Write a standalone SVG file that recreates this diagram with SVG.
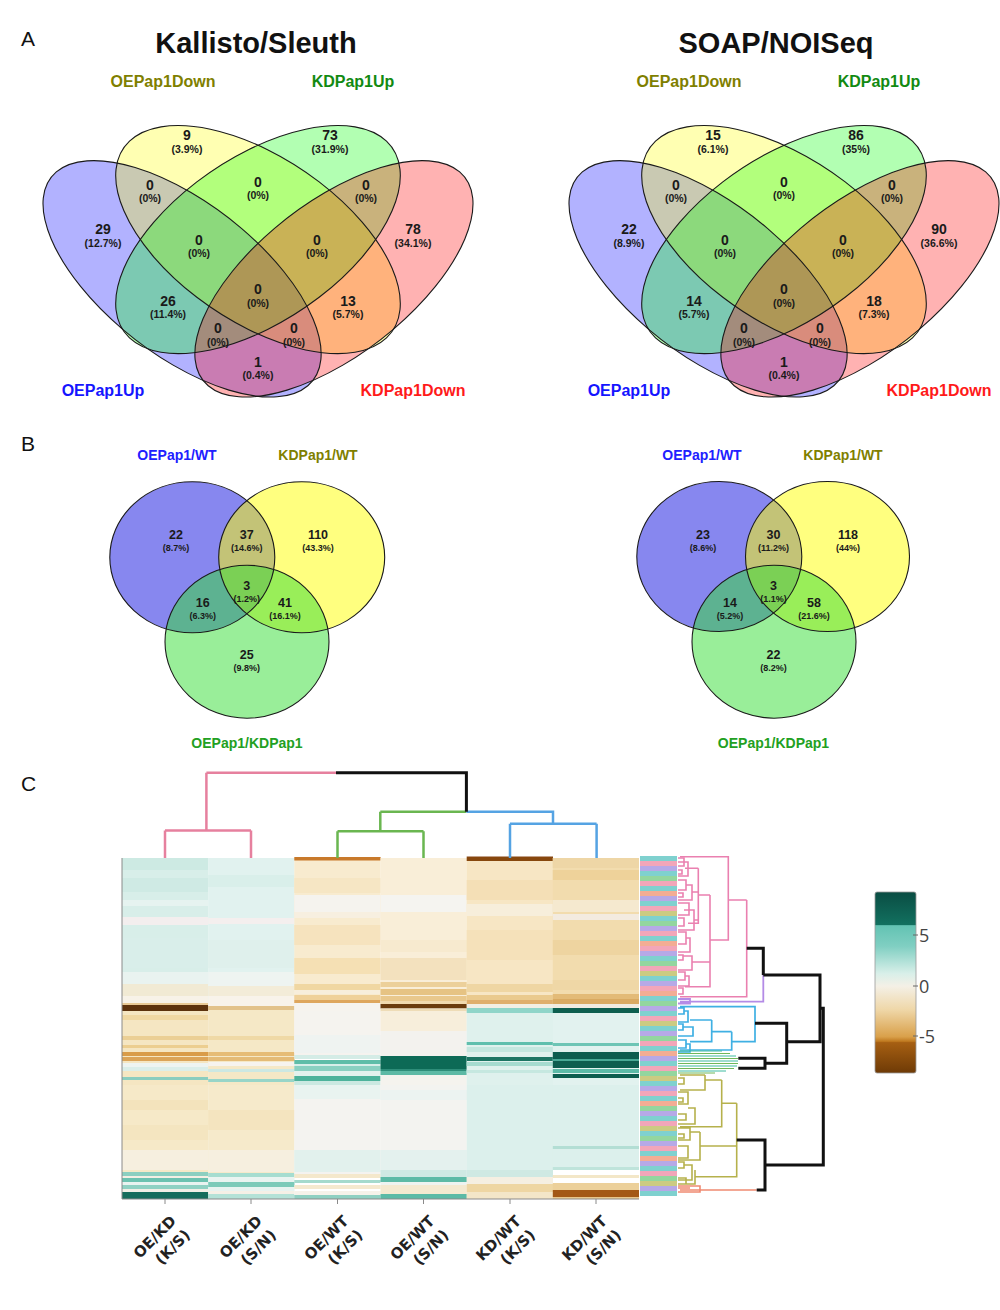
<svg xmlns="http://www.w3.org/2000/svg" width="1000" height="1310" viewBox="0 0 1000 1310">
<style>
text{font-family:"Liberation Sans",Arial,sans-serif;}
.panel{font-size:21px;fill:#111}
.title{font-size:29px;font-weight:bold;fill:#111;text-anchor:middle}
.n4{font-size:14px;font-weight:bold;fill:#1a1a1a;text-anchor:middle}
.p4{font-size:10.5px;font-weight:bold;fill:#1a1a1a;text-anchor:middle}
.n3{font-size:12.5px;font-weight:bold;fill:#1a1a1a;text-anchor:middle}
.p3{font-size:9px;font-weight:bold;fill:#1a1a1a;text-anchor:middle}
.cat4{font-size:16px;font-weight:bold;text-anchor:middle}
.cat3{font-size:14px;font-weight:bold;text-anchor:middle}
.f4{fill-opacity:0.3;stroke:none}
.s4{fill:none;stroke:#1a1a1a;stroke-width:1.1;vector-effect:non-scaling-stroke}
.f3{fill-opacity:0.5;stroke:none}
.s3{fill:none;stroke:#1a1a1a;stroke-width:1.1}
.xl{font-family:"DejaVu Sans",sans-serif;font-size:15px;font-weight:bold;fill:#222;text-anchor:end}
.cb{font-family:"Open Sans",sans-serif;font-size:18px;fill:#444}
.blk{fill:none;stroke:#111;stroke-width:3}
.cpk{fill:none;stroke:#e6809e;stroke-width:2.5}
.cgr{fill:none;stroke:#6ab650;stroke-width:2.5}
.cbl{fill:none;stroke:#55a3e3;stroke-width:2.5}
.rpk{fill:none;stroke:#ea80b0;stroke-width:1.6}
.rpu{fill:none;stroke:#b48be6;stroke-width:1.8}
.rbl{fill:none;stroke:#3fb0e3;stroke-width:1.7}
.rgr{fill:none;stroke-width:1}
.rol{fill:none;stroke:#b6b14c;stroke-width:1.6}
.rsa{fill:none;stroke:#ef8a72;stroke-width:1.6}
</style>
<defs>
<linearGradient id="cbg" x1="0" y1="0" x2="0" y2="1">
<stop offset="0" stop-color="#0a4d43"/>
<stop offset="0.18" stop-color="#12705f"/>
<stop offset="0.186" stop-color="#63c3b3"/>
<stop offset="0.3" stop-color="#80cfc2"/>
<stop offset="0.45" stop-color="#d8efe9"/>
<stop offset="0.52" stop-color="#f4f0e6"/>
<stop offset="0.65" stop-color="#efd7a8"/>
<stop offset="0.8" stop-color="#d9a04a"/>
<stop offset="0.825" stop-color="#c07a20"/>
<stop offset="0.832" stop-color="#a65f12"/>
<stop offset="1" stop-color="#6e3a06"/>
</linearGradient>
<filter id="soft" x="0" y="0" width="1" height="1"><feGaussianBlur stdDeviation="0.7"/></filter>
</defs>

<text class="panel" x="21" y="46">A</text>
<text class="panel" x="21" y="451">B</text>
<text class="panel" x="21" y="791">C</text>
<text class="title" x="256" y="53">Kallisto/Sleuth</text>
<text class="title" x="776" y="53">SOAP/NOISeq</text>

<!-- Venn A left -->
<g id="vennA-left">
<g transform="matrix(494 0 0 -420 11 475.6)">
<ellipse class="f4" fill="#0000ff" rx="0.36" ry="0.17" transform="translate(0.3463 0.4685) rotate(-45)"/>
<ellipse class="f4" fill="#ffff00" rx="0.35" ry="0.185" transform="translate(0.5 0.562) rotate(-42)"/>
<ellipse class="f4" fill="#00ff00" rx="0.35" ry="0.185" transform="translate(0.5 0.562) rotate(42)"/>
<ellipse class="f4" fill="#ff0000" rx="0.36" ry="0.17" transform="translate(0.6537 0.4685) rotate(45)"/>
<ellipse class="s4" rx="0.36" ry="0.17" transform="translate(0.3463 0.4685) rotate(-45)"/>
<ellipse class="s4" rx="0.35" ry="0.185" transform="translate(0.5 0.562) rotate(-42)"/>
<ellipse class="s4" rx="0.35" ry="0.185" transform="translate(0.5 0.562) rotate(42)"/>
<ellipse class="s4" rx="0.36" ry="0.17" transform="translate(0.6537 0.4685) rotate(45)"/>
</g>
<text class="cat4" x="163" y="87" fill="#7f7f00">OEPap1Down</text>
<text class="cat4" x="353" y="87" fill="#128a12">KDPap1Up</text>
<text class="cat4" x="103" y="396" fill="#1515ff">OEPap1Up</text>
<text class="cat4" x="413" y="396" fill="#ff1a1a">KDPap1Down</text>
<text class="n4" x="187" y="140">9</text><text class="p4" x="187" y="153">(3.9%)</text>
<text class="n4" x="330" y="140">73</text><text class="p4" x="330" y="153">(31.9%)</text>
<text class="n4" x="150" y="190">0</text><text class="p4" x="150" y="202">(0%)</text>
<text class="n4" x="258" y="187">0</text><text class="p4" x="258" y="199">(0%)</text>
<text class="n4" x="366" y="190">0</text><text class="p4" x="366" y="202">(0%)</text>
<text class="n4" x="103" y="234">29</text><text class="p4" x="103" y="247">(12.7%)</text>
<text class="n4" x="199" y="245">0</text><text class="p4" x="199" y="257">(0%)</text>
<text class="n4" x="317" y="245">0</text><text class="p4" x="317" y="257">(0%)</text>
<text class="n4" x="413" y="234">78</text><text class="p4" x="413" y="247">(34.1%)</text>
<text class="n4" x="258" y="294">0</text><text class="p4" x="258" y="307">(0%)</text>
<text class="n4" x="168" y="306">26</text><text class="p4" x="168" y="318">(11.4%)</text>
<text class="n4" x="348" y="306">13</text><text class="p4" x="348" y="318">(5.7%)</text>
<text class="n4" x="218" y="333">0</text><text class="p4" x="218" y="346">(0%)</text>
<text class="n4" x="294" y="333">0</text><text class="p4" x="294" y="346">(0%)</text>
<text class="n4" x="258" y="367">1</text><text class="p4" x="258" y="379">(0.4%)</text>
</g>

<!-- Venn A right -->
<g id="vennA-right" transform="translate(526 0)">
<g transform="matrix(494 0 0 -420 11 475.6)">
<ellipse class="f4" fill="#0000ff" rx="0.36" ry="0.17" transform="translate(0.3463 0.4685) rotate(-45)"/>
<ellipse class="f4" fill="#ffff00" rx="0.35" ry="0.185" transform="translate(0.5 0.562) rotate(-42)"/>
<ellipse class="f4" fill="#00ff00" rx="0.35" ry="0.185" transform="translate(0.5 0.562) rotate(42)"/>
<ellipse class="f4" fill="#ff0000" rx="0.36" ry="0.17" transform="translate(0.6537 0.4685) rotate(45)"/>
<ellipse class="s4" rx="0.36" ry="0.17" transform="translate(0.3463 0.4685) rotate(-45)"/>
<ellipse class="s4" rx="0.35" ry="0.185" transform="translate(0.5 0.562) rotate(-42)"/>
<ellipse class="s4" rx="0.35" ry="0.185" transform="translate(0.5 0.562) rotate(42)"/>
<ellipse class="s4" rx="0.36" ry="0.17" transform="translate(0.6537 0.4685) rotate(45)"/>
</g>
<text class="cat4" x="163" y="87" fill="#7f7f00">OEPap1Down</text>
<text class="cat4" x="353" y="87" fill="#128a12">KDPap1Up</text>
<text class="cat4" x="103" y="396" fill="#1515ff">OEPap1Up</text>
<text class="cat4" x="413" y="396" fill="#ff1a1a">KDPap1Down</text>
<text class="n4" x="187" y="140">15</text><text class="p4" x="187" y="153">(6.1%)</text>
<text class="n4" x="330" y="140">86</text><text class="p4" x="330" y="153">(35%)</text>
<text class="n4" x="150" y="190">0</text><text class="p4" x="150" y="202">(0%)</text>
<text class="n4" x="258" y="187">0</text><text class="p4" x="258" y="199">(0%)</text>
<text class="n4" x="366" y="190">0</text><text class="p4" x="366" y="202">(0%)</text>
<text class="n4" x="103" y="234">22</text><text class="p4" x="103" y="247">(8.9%)</text>
<text class="n4" x="199" y="245">0</text><text class="p4" x="199" y="257">(0%)</text>
<text class="n4" x="317" y="245">0</text><text class="p4" x="317" y="257">(0%)</text>
<text class="n4" x="413" y="234">90</text><text class="p4" x="413" y="247">(36.6%)</text>
<text class="n4" x="258" y="294">0</text><text class="p4" x="258" y="307">(0%)</text>
<text class="n4" x="168" y="306">14</text><text class="p4" x="168" y="318">(5.7%)</text>
<text class="n4" x="348" y="306">18</text><text class="p4" x="348" y="318">(7.3%)</text>
<text class="n4" x="218" y="333">0</text><text class="p4" x="218" y="346">(0%)</text>
<text class="n4" x="294" y="333">0</text><text class="p4" x="294" y="346">(0%)</text>
<text class="n4" x="258" y="367">1</text><text class="p4" x="258" y="379">(0.4%)</text>
</g>

<!-- Venn B left -->
<g id="vennB-left">
<ellipse class="f3" fill="#1010e0" cx="192.3" cy="557.3" rx="82.5" ry="75.5"/>
<ellipse class="f3" fill="#ffff00" cx="301.7" cy="557.3" rx="83" ry="75.5"/>
<ellipse class="f3" fill="#33dd33" cx="247" cy="641.7" rx="82" ry="76.5"/>
<ellipse class="s3" cx="192.3" cy="557.3" rx="82.5" ry="75.5"/>
<ellipse class="s3" cx="301.7" cy="557.3" rx="83" ry="75.5"/>
<ellipse class="s3" cx="247" cy="641.7" rx="82" ry="76.5"/>
<text class="cat3" x="177" y="460" fill="#2020ff">OEPap1/WT</text>
<text class="cat3" x="318" y="460" fill="#7f7f00">KDPap1/WT</text>
<text class="cat3" x="247" y="748" fill="#22a022">OEPap1/KDPap1</text>
<text class="n3" x="176" y="539">22</text><text class="p3" x="176" y="550.5">(8.7%)</text>
<text class="n3" x="246.7" y="539">37</text><text class="p3" x="246.7" y="550.5">(14.6%)</text>
<text class="n3" x="318" y="539">110</text><text class="p3" x="318" y="550.5">(43.3%)</text>
<text class="n3" x="246.7" y="590">3</text><text class="p3" x="246.7" y="601.5">(1.2%)</text>
<text class="n3" x="202.7" y="607">16</text><text class="p3" x="202.7" y="618.5">(6.3%)</text>
<text class="n3" x="285" y="607">41</text><text class="p3" x="285" y="618.5">(16.1%)</text>
<text class="n3" x="246.7" y="659">25</text><text class="p3" x="246.7" y="670.5">(9.8%)</text>
</g>

<!-- Venn B right -->
<g id="vennB-right" transform="translate(527 0)">
<ellipse class="f3" fill="#1010e0" cx="192.3" cy="556.5" rx="82.5" ry="75"/>
<ellipse class="f3" fill="#ffff00" cx="300.5" cy="556.5" rx="82" ry="75"/>
<ellipse class="f3" fill="#33dd33" cx="247" cy="641.7" rx="82" ry="76.5"/>
<ellipse class="s3" cx="192.3" cy="556.5" rx="82.5" ry="75"/>
<ellipse class="s3" cx="300.5" cy="556.5" rx="82" ry="75"/>
<ellipse class="s3" cx="247" cy="641.7" rx="82" ry="76.5"/>
<text class="cat3" x="175" y="460" fill="#2020ff">OEPap1/WT</text>
<text class="cat3" x="316" y="460" fill="#7f7f00">KDPap1/WT</text>
<text class="cat3" x="246.5" y="748" fill="#22a022">OEPap1/KDPap1</text>
<text class="n3" x="176" y="539">23</text><text class="p3" x="176" y="550.5">(8.6%)</text>
<text class="n3" x="246.5" y="539">30</text><text class="p3" x="246.5" y="550.5">(11.2%)</text>
<text class="n3" x="321" y="539">118</text><text class="p3" x="321" y="550.5">(44%)</text>
<text class="n3" x="246.5" y="590">3</text><text class="p3" x="246.5" y="601.5">(1.1%)</text>
<text class="n3" x="203" y="607">14</text><text class="p3" x="203" y="618.5">(5.2%)</text>
<text class="n3" x="287" y="607">58</text><text class="p3" x="287" y="618.5">(21.6%)</text>
<text class="n3" x="246.5" y="659">22</text><text class="p3" x="246.5" y="670.5">(8.2%)</text>
</g>

<!-- Heatmap -->
<g id="heatmap" filter="url(#soft)">
<!-- col1 -->
<rect x="122" y="858" width="86.3" height="145" fill="#d8eee9"/>
<rect x="122" y="858" width="86.3" height="12" fill="#cdeae3"/>
<rect x="122" y="878" width="86.3" height="14" fill="#cfeae4"/>
<rect x="122" y="900" width="86.3" height="6" fill="#e6f3f0"/>
<rect x="122" y="917" width="86.3" height="8" fill="#f3eeee"/>
<rect x="122" y="938" width="86.3" height="30" fill="#d9eeea"/>
<rect x="122" y="972" width="86.3" height="12" fill="#e9f3f0"/>
<rect x="122" y="984" width="86.3" height="12" fill="#f1ead4"/>
<rect x="122" y="996" width="86.3" height="8" fill="#f7f2e8"/>
<rect x="122" y="1003" width="86.3" height="2" fill="#e8c995"/>
<rect x="122" y="1005" width="86.3" height="6" fill="#5b3208"/>
<rect x="122" y="1011" width="86.3" height="74" fill="#f5e6c2"/>
<rect x="122" y="1015" width="86.3" height="5" fill="#f0d8a3"/>
<rect x="122" y="1036" width="86.3" height="4" fill="#ebcf95"/>
<rect x="122" y="1045" width="86.3" height="3" fill="#ecce90"/>
<rect x="122" y="1052" width="86.3" height="4" fill="#d99c48"/>
<rect x="122" y="1057" width="86.3" height="4" fill="#dba458"/>
<rect x="122" y="1063" width="86.3" height="4" fill="#eef4f1"/>
<rect x="122" y="1067" width="86.3" height="4" fill="#dbeee9"/>
<rect x="122" y="1077" width="86.3" height="3" fill="#8acdbf"/>
<rect x="122" y="1085" width="86.3" height="88" fill="#f6e9c8"/>
<rect x="122" y="1100" width="86.3" height="10" fill="#f3e3bc"/>
<rect x="122" y="1125" width="86.3" height="15" fill="#f4e5c0"/>
<rect x="122" y="1150" width="86.3" height="20" fill="#f6efdf"/>
<rect x="122" y="1172" width="86.3" height="4" fill="#8ccfc0"/>
<rect x="122" y="1176" width="86.3" height="2" fill="#f4efe4"/>
<rect x="122" y="1178" width="86.3" height="4" fill="#6cc2b0"/>
<rect x="122" y="1182" width="86.3" height="3" fill="#e9f3f0"/>
<rect x="122" y="1185" width="86.3" height="4" fill="#8fd1c3"/>
<rect x="122" y="1189" width="86.3" height="3" fill="#f3efe6"/>
<rect x="122" y="1192" width="86.3" height="7" fill="#136c5b"/>
<!-- col2 -->
<rect x="208.2" y="858" width="86.3" height="145" fill="#e1f2ef"/>
<rect x="208.2" y="875" width="86.3" height="12" fill="#d9efea"/>
<rect x="208.2" y="918" width="86.3" height="6" fill="#f4efee"/>
<rect x="208.2" y="940" width="86.3" height="28" fill="#dff0ec"/>
<rect x="208.2" y="972" width="86.3" height="14" fill="#eef4f1"/>
<rect x="208.2" y="986" width="86.3" height="10" fill="#f3ecd8"/>
<rect x="208.2" y="996" width="86.3" height="10" fill="#f8f3ea"/>
<rect x="208.2" y="1006" width="86.3" height="4" fill="#e2c28a"/>
<rect x="208.2" y="1010" width="86.3" height="75" fill="#f5e8c6"/>
<rect x="208.2" y="1036" width="86.3" height="4" fill="#efd9a6"/>
<rect x="208.2" y="1052" width="86.3" height="4" fill="#e6bc75"/>
<rect x="208.2" y="1057" width="86.3" height="4" fill="#e4bb76"/>
<rect x="208.2" y="1062" width="86.3" height="4" fill="#f6f3ee"/>
<rect x="208.2" y="1069" width="86.3" height="3" fill="#cde8e2"/>
<rect x="208.2" y="1079" width="86.3" height="3" fill="#98d5c8"/>
<rect x="208.2" y="1085" width="86.3" height="88" fill="#f6eacb"/>
<rect x="208.2" y="1110" width="86.3" height="20" fill="#f4e4bf"/>
<rect x="208.2" y="1150" width="86.3" height="22" fill="#f6efdf"/>
<rect x="208.2" y="1173" width="86.3" height="4" fill="#a6ddd0"/>
<rect x="208.2" y="1177" width="86.3" height="5" fill="#eaf4f1"/>
<rect x="208.2" y="1182" width="86.3" height="5" fill="#7ccab9"/>
<rect x="208.2" y="1187" width="86.3" height="4" fill="#e8f3f0"/>
<rect x="208.2" y="1191" width="86.3" height="3" fill="#f5f0e6"/>
<rect x="208.2" y="1194" width="86.3" height="5" fill="#b4e2d7"/>
<!-- col3 -->
<rect x="294.3" y="858" width="86.3" height="146" fill="#f8ebcf"/>
<rect x="294.3" y="857" width="86.3" height="3.5" fill="#c8792a"/>
<rect x="294.3" y="878" width="86.3" height="15" fill="#f6e6c4"/>
<rect x="294.3" y="895" width="86.3" height="17" fill="#f5f3ee"/>
<rect x="294.3" y="912" width="86.3" height="6" fill="#f7efe0"/>
<rect x="294.3" y="925" width="86.3" height="20" fill="#f6e3be"/>
<rect x="294.3" y="958" width="86.3" height="16" fill="#f5e0b4"/>
<rect x="294.3" y="984" width="86.3" height="6" fill="#f0d7a2"/>
<rect x="294.3" y="990" width="86.3" height="4" fill="#f7eedc"/>
<rect x="294.3" y="995" width="86.3" height="5" fill="#efd19a"/>
<rect x="294.3" y="1000" width="86.3" height="3" fill="#dea65d"/>
<rect x="294.3" y="1003" width="86.3" height="8" fill="#f6f3ee"/>
<rect x="294.3" y="1011" width="86.3" height="44" fill="#f5f3ef"/>
<rect x="294.3" y="1035" width="86.3" height="18" fill="#eff3f1"/>
<rect x="294.3" y="1055" width="86.3" height="4" fill="#d4ece6"/>
<rect x="294.3" y="1060" width="86.3" height="4" fill="#5ebda8"/>
<rect x="294.3" y="1064" width="86.3" height="2" fill="#d8eee9"/>
<rect x="294.3" y="1066" width="86.3" height="5" fill="#8ad0c1"/>
<rect x="294.3" y="1071" width="86.3" height="5" fill="#e2f1ed"/>
<rect x="294.3" y="1076" width="86.3" height="5" fill="#4db29b"/>
<rect x="294.3" y="1081" width="86.3" height="4" fill="#cbe8e1"/>
<rect x="294.3" y="1085" width="86.3" height="89" fill="#f4f3f0"/>
<rect x="294.3" y="1085" width="86.3" height="14" fill="#e9f3f0"/>
<rect x="294.3" y="1150" width="86.3" height="22" fill="#e2f1ed"/>
<rect x="294.3" y="1174" width="86.3" height="4" fill="#f4e8cc"/>
<rect x="294.3" y="1180" width="86.3" height="3" fill="#a5dacd"/>
<rect x="294.3" y="1185" width="86.3" height="4" fill="#f5e9cf"/>
<rect x="294.3" y="1191" width="86.3" height="4" fill="#f6f2ea"/>
<rect x="294.3" y="1195" width="86.3" height="4" fill="#8fd0c2"/>
<!-- col4 -->
<rect x="380.5" y="858" width="86.3" height="146" fill="#f9eed8"/>
<rect x="380.5" y="895" width="86.3" height="17" fill="#f5f4f0"/>
<rect x="380.5" y="940" width="86.3" height="12" fill="#f7eacf"/>
<rect x="380.5" y="958" width="86.3" height="22" fill="#f3e1be"/>
<rect x="380.5" y="982" width="86.3" height="5" fill="#ecd09a"/>
<rect x="380.5" y="989" width="86.3" height="6" fill="#e6c383"/>
<rect x="380.5" y="996" width="86.3" height="5" fill="#e9c88c"/>
<rect x="380.5" y="1001" width="86.3" height="3" fill="#f0d9ae"/>
<rect x="380.5" y="1004" width="86.3" height="4.5" fill="#6a3b0a"/>
<rect x="380.5" y="1008.5" width="86.3" height="3" fill="#eedcb7"/>
<rect x="380.5" y="1011" width="86.3" height="20" fill="#f7eedb"/>
<rect x="380.5" y="1031" width="86.3" height="25" fill="#f3f2ee"/>
<rect x="380.5" y="1056" width="86.3" height="13" fill="#0d6a57"/>
<rect x="380.5" y="1069" width="86.3" height="2" fill="#2e8d79"/>
<rect x="380.5" y="1071" width="86.3" height="4" fill="#5db9a5"/>
<rect x="380.5" y="1075" width="86.3" height="10" fill="#f5f3ee"/>
<rect x="380.5" y="1085" width="86.3" height="85" fill="#f3f3f0"/>
<rect x="380.5" y="1090" width="86.3" height="10" fill="#ecf3f1"/>
<rect x="380.5" y="1150" width="86.3" height="20" fill="#e4f1ee"/>
<rect x="380.5" y="1170" width="86.3" height="7" fill="#cfe9e3"/>
<rect x="380.5" y="1177" width="86.3" height="5" fill="#5dbaa6"/>
<rect x="380.5" y="1182" width="86.3" height="3" fill="#eef3f0"/>
<rect x="380.5" y="1185" width="86.3" height="9" fill="#f4e9d0"/>
<rect x="380.5" y="1194" width="86.3" height="5" fill="#5cbaa6"/>
<!-- col5 -->
<rect x="466.7" y="858" width="86.3" height="146" fill="#f7e6c4"/>
<rect x="466.7" y="856.5" width="86.3" height="4.5" fill="#874610"/>
<rect x="466.7" y="880" width="86.3" height="20" fill="#f4dfb6"/>
<rect x="466.7" y="904" width="86.3" height="12" fill="#f7eedb"/>
<rect x="466.7" y="930" width="86.3" height="30" fill="#f5e1ba"/>
<rect x="466.7" y="984" width="86.3" height="8" fill="#efd6a3"/>
<rect x="466.7" y="995" width="86.3" height="5" fill="#eaca8e"/>
<rect x="466.7" y="1000" width="86.3" height="4" fill="#dfae6c"/>
<rect x="466.7" y="1004" width="86.3" height="4" fill="#f2eee4"/>
<rect x="466.7" y="1008" width="86.3" height="5" fill="#8fd5c9"/>
<rect x="466.7" y="1013" width="86.3" height="72" fill="#dff1ed"/>
<rect x="466.7" y="1042" width="86.3" height="3" fill="#5ebfad"/>
<rect x="466.7" y="1047" width="86.3" height="5" fill="#c4e7df"/>
<rect x="466.7" y="1057" width="86.3" height="4" fill="#1c7463"/>
<rect x="466.7" y="1062" width="86.3" height="4" fill="#a5dbcf"/>
<rect x="466.7" y="1070" width="86.3" height="3" fill="#c6e8e0"/>
<rect x="466.7" y="1085" width="86.3" height="85" fill="#dcf0ec"/>
<rect x="466.7" y="1170" width="86.3" height="7" fill="#cfe9e3"/>
<rect x="466.7" y="1177" width="86.3" height="7" fill="#f5efe2"/>
<rect x="466.7" y="1184" width="86.3" height="8" fill="#eed6a3"/>
<rect x="466.7" y="1192" width="86.3" height="7" fill="#f3e6c8"/>
<!-- col6 -->
<rect x="552.8" y="858" width="86.2" height="146" fill="#f2dcae"/>
<rect x="552.8" y="858" width="86.2" height="10" fill="#eed6a6"/>
<rect x="552.8" y="870" width="86.2" height="10" fill="#eed29a"/>
<rect x="552.8" y="900" width="86.2" height="12" fill="#f5e9cf"/>
<rect x="552.8" y="914" width="86.2" height="6" fill="#f3ebe0"/>
<rect x="552.8" y="940" width="86.2" height="15" fill="#eed4a0"/>
<rect x="552.8" y="980" width="86.2" height="10" fill="#efd7a6"/>
<rect x="552.8" y="994" width="86.2" height="5" fill="#e3bb78"/>
<rect x="552.8" y="999" width="86.2" height="5" fill="#d9aa62"/>
<rect x="552.8" y="1004" width="86.2" height="4" fill="#f0ebe0"/>
<rect x="552.8" y="1008" width="86.2" height="5" fill="#0b5e50"/>
<rect x="552.8" y="1013" width="86.2" height="72" fill="#e2f2ef"/>
<rect x="552.8" y="1043" width="86.2" height="3" fill="#6ec5b5"/>
<rect x="552.8" y="1052" width="86.2" height="7" fill="#0c5d4f"/>
<rect x="552.8" y="1059" width="86.2" height="2" fill="#4aa996"/>
<rect x="552.8" y="1061" width="86.2" height="7" fill="#0c5d4f"/>
<rect x="552.8" y="1069" width="86.2" height="4" fill="#5bbaa7"/>
<rect x="552.8" y="1074" width="86.2" height="4" fill="#0c5d4f"/>
<rect x="552.8" y="1085" width="86.2" height="85" fill="#dcf0ec"/>
<rect x="552.8" y="1146" width="86.2" height="3" fill="#b3ded4"/>
<rect x="552.8" y="1167" width="86.2" height="3" fill="#bfe4db"/>
<rect x="552.8" y="1175" width="86.2" height="3" fill="#f3e7c8"/>
<rect x="552.8" y="1183" width="86.2" height="7" fill="#ecd09a"/>
<rect x="552.8" y="1190" width="86.2" height="7" fill="#a35812"/>
<rect x="552.8" y="1197" width="86.2" height="2" fill="#e8c68c"/>
</g>
<g id="heatmap-axes" stroke="#8a8a8a" stroke-width="1" fill="none">
<path d="M122,858 V1199 H639"/>
<path d="M165,1199 v5 M251,1199 v5 M337.5,1199 v5 M423.5,1199 v5 M510,1199 v5 M596,1199 v5"/>
</g>

<!-- row annotation sidebar -->
<g id="sidebar">
<rect x="640" y="856" width="37" height="5" fill="#7fd1cf"/>
<rect x="640" y="861" width="37" height="5" fill="#f2a6b9"/>
<rect x="640" y="866" width="37" height="5" fill="#b6a9e7"/>
<rect x="640" y="871" width="37" height="5" fill="#7fd1cf"/>
<rect x="640" y="876" width="37" height="5" fill="#93d69f"/>
<rect x="640" y="881" width="37" height="5" fill="#f2a6b9"/>
<rect x="640" y="886" width="37" height="5" fill="#7fd1cf"/>
<rect x="640" y="891" width="37" height="5" fill="#f3ad94"/>
<rect x="640" y="896" width="37" height="5" fill="#b6a9e7"/>
<rect x="640" y="901" width="37" height="5" fill="#7fd1cf"/>
<rect x="640" y="906" width="37" height="5" fill="#f2a6b9"/>
<rect x="640" y="911" width="37" height="5" fill="#cccb82"/>
<rect x="640" y="916" width="37" height="5" fill="#7fd1cf"/>
<rect x="640" y="921" width="37" height="5" fill="#93d69f"/>
<rect x="640" y="926" width="37" height="5" fill="#b6a9e7"/>
<rect x="640" y="931" width="37" height="5" fill="#f2a6b9"/>
<rect x="640" y="936" width="37" height="5" fill="#7fd1cf"/>
<rect x="640" y="941" width="37" height="5" fill="#f3ad94"/>
<rect x="640" y="946" width="37" height="5" fill="#f2a6b9"/>
<rect x="640" y="951" width="37" height="5" fill="#b6a9e7"/>
<rect x="640" y="956" width="37" height="5" fill="#7fd1cf"/>
<rect x="640" y="961" width="37" height="5" fill="#93d69f"/>
<rect x="640" y="966" width="37" height="5" fill="#f2a6b9"/>
<rect x="640" y="971" width="37" height="5" fill="#cccb82"/>
<rect x="640" y="976" width="37" height="5" fill="#7fd1cf"/>
<rect x="640" y="981" width="37" height="5" fill="#b6a9e7"/>
<rect x="640" y="986" width="37" height="5" fill="#f2a6b9"/>
<rect x="640" y="991" width="37" height="5" fill="#f3ad94"/>
<rect x="640" y="996" width="37" height="5" fill="#7fd1cf"/>
<rect x="640" y="1001" width="37" height="5" fill="#93d69f"/>
<rect x="640" y="1006" width="37" height="5" fill="#b6a9e7"/>
<rect x="640" y="1011" width="37" height="5" fill="#7fd1cf"/>
<rect x="640" y="1016" width="37" height="5" fill="#f2a6b9"/>
<rect x="640" y="1021" width="37" height="5" fill="#cccb82"/>
<rect x="640" y="1026" width="37" height="5" fill="#7fd1cf"/>
<rect x="640" y="1031" width="37" height="5" fill="#b6a9e7"/>
<rect x="640" y="1036" width="37" height="5" fill="#93d69f"/>
<rect x="640" y="1041" width="37" height="5" fill="#f2a6b9"/>
<rect x="640" y="1046" width="37" height="5" fill="#7fd1cf"/>
<rect x="640" y="1051" width="37" height="5" fill="#f3ad94"/>
<rect x="640" y="1056" width="37" height="5" fill="#b6a9e7"/>
<rect x="640" y="1061" width="37" height="5" fill="#7fd1cf"/>
<rect x="640" y="1066" width="37" height="5" fill="#f2a6b9"/>
<rect x="640" y="1071" width="37" height="5" fill="#93d69f"/>
<rect x="640" y="1076" width="37" height="5" fill="#cccb82"/>
<rect x="640" y="1081" width="37" height="5" fill="#7fd1cf"/>
<rect x="640" y="1086" width="37" height="5" fill="#b6a9e7"/>
<rect x="640" y="1091" width="37" height="5" fill="#f2a6b9"/>
<rect x="640" y="1096" width="37" height="5" fill="#7fd1cf"/>
<rect x="640" y="1101" width="37" height="5" fill="#f3ad94"/>
<rect x="640" y="1106" width="37" height="5" fill="#93d69f"/>
<rect x="640" y="1111" width="37" height="5" fill="#b6a9e7"/>
<rect x="640" y="1116" width="37" height="5" fill="#7fd1cf"/>
<rect x="640" y="1121" width="37" height="5" fill="#f2a6b9"/>
<rect x="640" y="1126" width="37" height="5" fill="#cccb82"/>
<rect x="640" y="1131" width="37" height="5" fill="#7fd1cf"/>
<rect x="640" y="1136" width="37" height="5" fill="#93d69f"/>
<rect x="640" y="1141" width="37" height="5" fill="#b6a9e7"/>
<rect x="640" y="1146" width="37" height="5" fill="#f2a6b9"/>
<rect x="640" y="1151" width="37" height="5" fill="#7fd1cf"/>
<rect x="640" y="1156" width="37" height="5" fill="#f3ad94"/>
<rect x="640" y="1161" width="37" height="5" fill="#b6a9e7"/>
<rect x="640" y="1166" width="37" height="5" fill="#7fd1cf"/>
<rect x="640" y="1171" width="37" height="5" fill="#f2a6b9"/>
<rect x="640" y="1176" width="37" height="5" fill="#93d69f"/>
<rect x="640" y="1181" width="37" height="5" fill="#cccb82"/>
<rect x="640" y="1186" width="37" height="5" fill="#b6a9e7"/>
<rect x="640" y="1191" width="37" height="5" fill="#7fd1cf"/>
</g>

<!-- dendrograms -->
<g id="connectors">
<!-- column dendrogram -->
<path class="cpk" d="M206.4,772.7 H336"/>
<path class="cpk" d="M206.4,772.7 V830.6 M165,830.6 H251 M165,830.6 V858 M251,830.6 V858"/>
<path class="cgr" d="M380.3,811.7 H466.4 M380.3,811.7 V831.3 M337.5,831.3 H423.5 M337.5,831.3 V858 M423.5,831.3 V858"/>
<path class="cbl" d="M466.4,811.7 H553 V823.7 M510,823.7 H596.6 M510,823.7 V858 M596.6,823.7 V858"/>
<path class="blk" d="M336,772.7 H466.4 V811.7"/>
<!-- row dendrogram -->
<path class="rpk" d="M746.7,900 V996.7 H680 M680,856.7 H728.3 V940 H710 M728.3,900 H746.7 M710,895 V986.7 H685 M698.3,895 H710 M698.3,868.3 V923.3 H688 M685,868.3 H698.3"/>
<path class="rpk" d="M678,858 H684 V866 H678 M678,862 H688 V876 H678 M678,870 H682 V874 H678 M678,880 H686 V890 H678 M686,885 H692 V900 H678 M678,893 H683 V897 H678 M678,903 H689 V915 H678 M678,918 H684 V926 H678 M684,910 H694 V930 H678 M678,932 H686 V944 H678 M686,938 H690 V952 H678 M678,955 H683 V960 H678 M683,956 H692 V970 H678 M678,972 H685 V980 H678 M685,976 H689 V986 H678 M678,988 H683 V994 H678 M692,962 H710 M694,920 H698.3 M692,892 H698.3"/>
<path class="rpu" d="M680,1001.7 H763.3 V975 M678,999 H690 V1003.5 H678"/>
<path class="rbl" d="M680,1006.7 H755 V1041.7 H731.7 M731.7,1031.7 V1050 H680 M711.7,1031.7 H731.7 M711.7,1020 V1041.7 H690 M690,1020 H711.7 M678,1008 H684 V1014 H678 M684,1011 H688 V1022 H678 M678,1024 H683 V1030 H678 M683,1027 H693 V1036 H678 M678,1040 H686 V1048 H678 M686,1044 H690 V1052 H678"/>
<path class="rgr" stroke="#3fbba0" d="M678,1051 H722 M678,1056 H736 M678,1061 H738 M678,1066 H737 M678,1071 H726"/>
<path class="rgr" stroke="#6fb85a" d="M678,1053.5 H730 M678,1058.5 H738 M678,1063.5 H738 M678,1068.5 H734 M678,1073 H715"/>
<path class="rol" d="M736.7,1103.3 V1176.7 H695 M721.7,1080 V1126.7 H680 M721.7,1103.3 H736.7 M705,1080 H721.7 M705,1075 V1090 H680 M680,1075 H705 M678,1078 H684 V1084 H678 M678,1092 H688 V1104 H678 M678,1098 H683 V1102 H678 M688,1108 H695 V1124 H678 M678,1114 H686 V1120 H678 M678,1128 H690 V1140 H678 M678,1134 H684 V1138 H678 M700,1132 V1160 H678 M690,1132 H700 M700,1146 H736.7 M678,1146 H688 V1158 H678 M678,1162 H684 V1168 H678 M684,1165 H692 V1180 H678 M695,1170 V1184 H678 M678,1178 H686 V1184 H678"/>
<path class="rsa" d="M680,1190 H756.7 M678,1186 H700 V1192 H678 M678,1188 H690"/>
<path class="blk" d="M746.7,948.3 H763.3 V975 M763.3,975 H820 V1041.7 H786.7 M820,1008.3 H823.3 V1165 H765 M755,1023.3 H786.7 V1063.3 H765 M738.3,1058.3 H765 V1068.3 H738.3 M736.7,1140 H765 V1190 H756.7"/>
</g>

<!-- colour key -->
<g id="colorkey">
<rect x="875" y="892" width="41" height="181" rx="2" fill="url(#cbg)" stroke="#9a9a9a" stroke-width="0.8"/>
<path d="M913,935 h5 M913,986 h5 M913,1036 h5" stroke="#666" stroke-width="1"/>
<text class="cb" x="919" y="942">5</text>
<text class="cb" x="919" y="993">0</text>
<text class="cb" x="919" y="1043">-5</text>
</g>

<!-- x-axis labels -->
<g id="xlabels">
<text class="xl" transform="translate(177,1222) rotate(-45)">OE/KD</text>
<text class="xl" transform="translate(191,1236) rotate(-45)">(K/S)</text>
<text class="xl" transform="translate(263,1222) rotate(-45)">OE/KD</text>
<text class="xl" transform="translate(277,1236) rotate(-45)">(S/N)</text>
<text class="xl" transform="translate(349.5,1222) rotate(-45)">OE/WT</text>
<text class="xl" transform="translate(363.5,1236) rotate(-45)">(K/S)</text>
<text class="xl" transform="translate(435.5,1222) rotate(-45)">OE/WT</text>
<text class="xl" transform="translate(449.5,1236) rotate(-45)">(S/N)</text>
<text class="xl" transform="translate(522,1222) rotate(-45)">KD/WT</text>
<text class="xl" transform="translate(536,1236) rotate(-45)">(K/S)</text>
<text class="xl" transform="translate(608,1222) rotate(-45)">KD/WT</text>
<text class="xl" transform="translate(622,1236) rotate(-45)">(S/N)</text>
</g>
</svg>
